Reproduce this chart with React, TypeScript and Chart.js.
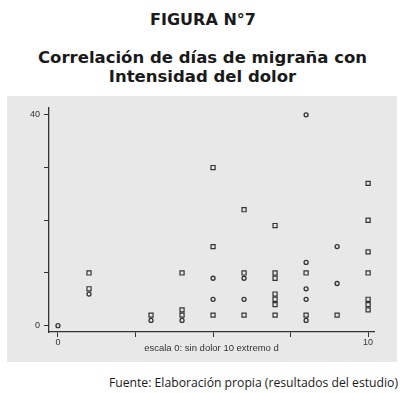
import React, { useEffect, useRef } from "react";
import { Chart, registerables } from "chart.js";

Chart.register(...registerables);

// Data (x = pain intensity 0-10, y = days of migraine)
const squareX = [1, 1, 3, 4, 4, 4, 5, 5, 5, 6, 6, 6, 7, 7, 7, 7, 7, 7, 7, 8, 8, 9, 10, 10, 10, 10, 10, 10, 10];
const squareY = [10, 7, 2, 10, 3, 2, 30, 15, 2, 22, 10, 2, 19, 10, 9, 6, 5, 4, 2, 10, 2, 2, 27, 20, 14, 10, 5, 4, 3];
const circleX = [0, 1, 3, 4, 5, 5, 6, 6, 8, 8, 8, 8, 8, 9, 9];
const circleY = [0, 6, 1, 1, 9, 5, 9, 5, 40, 12, 7, 5, 1, 15, 8];

const xTicks = [0, 2.5, 5, 7.5, 10];
const xTickLabels = ["0", "", "", "", "10"];
const yTicks = [0, 10, 20, 30, 40];
const yTickLabels = ["0", "", "", "", "40"];

const titleText = "FIGURA N°7";
const subtitleLines = ["Correlación de días de migraña con", "Intensidad del dolor"];
const xAxisTitle = "escala 0: sin dolor 10 extremo d";
const sourceText = "Fuente: Elaboración propia (resultados del estudio)";

export default function App() {
  const canvasRef = useRef<HTMLCanvasElement | null>(null);

  useEffect(() => {
    document.body.style.margin = "0";
    const canvas = canvasRef.current;
    if (!canvas) return;
    const ink = "#333333";
    const tickFont = { family: "'Liberation Sans', Arial, sans-serif", size: 9 };
    const chart = new Chart(canvas, {
      type: "scatter",
      data: {
        datasets: [
          {
            label: "squares",
            data: squareX.map((x, i) => ({ x, y: squareY[i] })),
            pointStyle: "rect",
            pointRadius: 2.9,
            borderColor: ink,
            borderWidth: 1.2,
            backgroundColor: "rgba(0,0,0,0)",
          },
          {
            label: "circles",
            data: circleX.map((x, i) => ({ x, y: circleY[i] })),
            pointStyle: "circle",
            pointRadius: 2,
            borderColor: ink,
            borderWidth: 1.3,
            backgroundColor: "rgba(0,0,0,0)",
          },
        ],
      },
      options: {
        animation: false,
        responsive: false,
        maintainAspectRatio: false,
        events: [],
        layout: { padding: { left: 0, top: 12, right: 23, bottom: 0 } },
        plugins: {
          legend: { display: false },
          tooltip: { enabled: false },
          title: { display: false },
        },
        scales: {
          x: {
            type: "linear",
            min: -0.29,
            max: 10.19,
            afterBuildTicks: (scale: any) => {
              scale.ticks = xTicks.map((value) => ({ value }));
            },
            afterFit: (scale: any) => {
              scale.height = 30;
            },
            grid: {
              display: true,
              drawOnChartArea: false,
              drawTicks: true,
              tickLength: 5,
              color: ink,
              lineWidth: 1,
            },
            border: { display: true, color: ink, width: 1.3 },
            ticks: {
              autoSkip: false,
              maxRotation: 0,
              padding: 0,
              color: ink,
              font: tickFont,
              callback: (value: any) => {
                const idx = xTicks.indexOf(Number(value));
                return idx >= 0 ? xTickLabels[idx] : "";
              },
            },
            title: {
              display: true,
              text: xAxisTitle,
              color: ink,
              font: { family: "'Liberation Sans Narrow', 'Liberation Sans', Arial, sans-serif", size: 9.5 },
              padding: { top: 0, bottom: 8 },
            },
          },
          y: {
            type: "linear",
            min: -1.2,
            max: 41.3,
            afterBuildTicks: (scale: any) => {
              scale.ticks = yTicks.map((value) => ({ value }));
            },
            afterFit: (scale: any) => {
              scale.width = 42;
            },
            grid: {
              display: true,
              drawOnChartArea: false,
              drawTicks: true,
              tickLength: 5,
              color: ink,
              lineWidth: 1,
            },
            border: { display: true, color: ink, width: 1.3 },
            ticks: {
              autoSkip: false,
              padding: 4,
              color: ink,
              font: tickFont,
              callback: (value: any) => {
                const idx = yTicks.indexOf(Number(value));
                return idx >= 0 ? yTickLabels[idx] : "";
              },
            },
          },
        },
      },
    });
    return () => chart.destroy();
  }, []);

  const titleFont = "'DejaVu Sans', 'Open Sans', sans-serif";
  const bodyFont = "'Open Sans', 'Noto Sans', sans-serif";

  return (
    <div style={{ position: "relative", width: 404, height: 393, background: "#ffffff", overflow: "hidden" }}>
      <div
        style={{
          position: "absolute",
          left: 0,
          top: 9.5,
          width: 406,
          textAlign: "center",
          fontFamily: titleFont,
          fontWeight: 700,
          fontSize: 16,
          lineHeight: "20px",
          color: "#1a1a1a",
          whiteSpace: "nowrap",
        }}
      >
        {titleText}
      </div>
      <div
        style={{
          position: "absolute",
          left: 0,
          top: 48,
          width: 405,
          textAlign: "center",
          fontFamily: titleFont,
          fontWeight: 700,
          fontSize: 16.5,
          lineHeight: "19px",
          color: "#1a1a1a",
          whiteSpace: "nowrap",
        }}
      >
        {subtitleLines.map((l, i) => (
          <div key={i}>{l}</div>
        ))}
      </div>
      <canvas
        ref={canvasRef}
        width={390}
        height={266}
        style={{ position: "absolute", left: 7, top: 96, width: 390, height: 266, background: "#e8e8e8" }}
      />
      <div
        style={{
          position: "absolute",
          right: 6,
          top: 374,
          fontFamily: bodyFont,
          fontSize: 12.2,
          lineHeight: "18px",
          color: "#1a1a1a",
          whiteSpace: "nowrap",
        }}
      >
        {sourceText}
      </div>
    </div>
  );
}
